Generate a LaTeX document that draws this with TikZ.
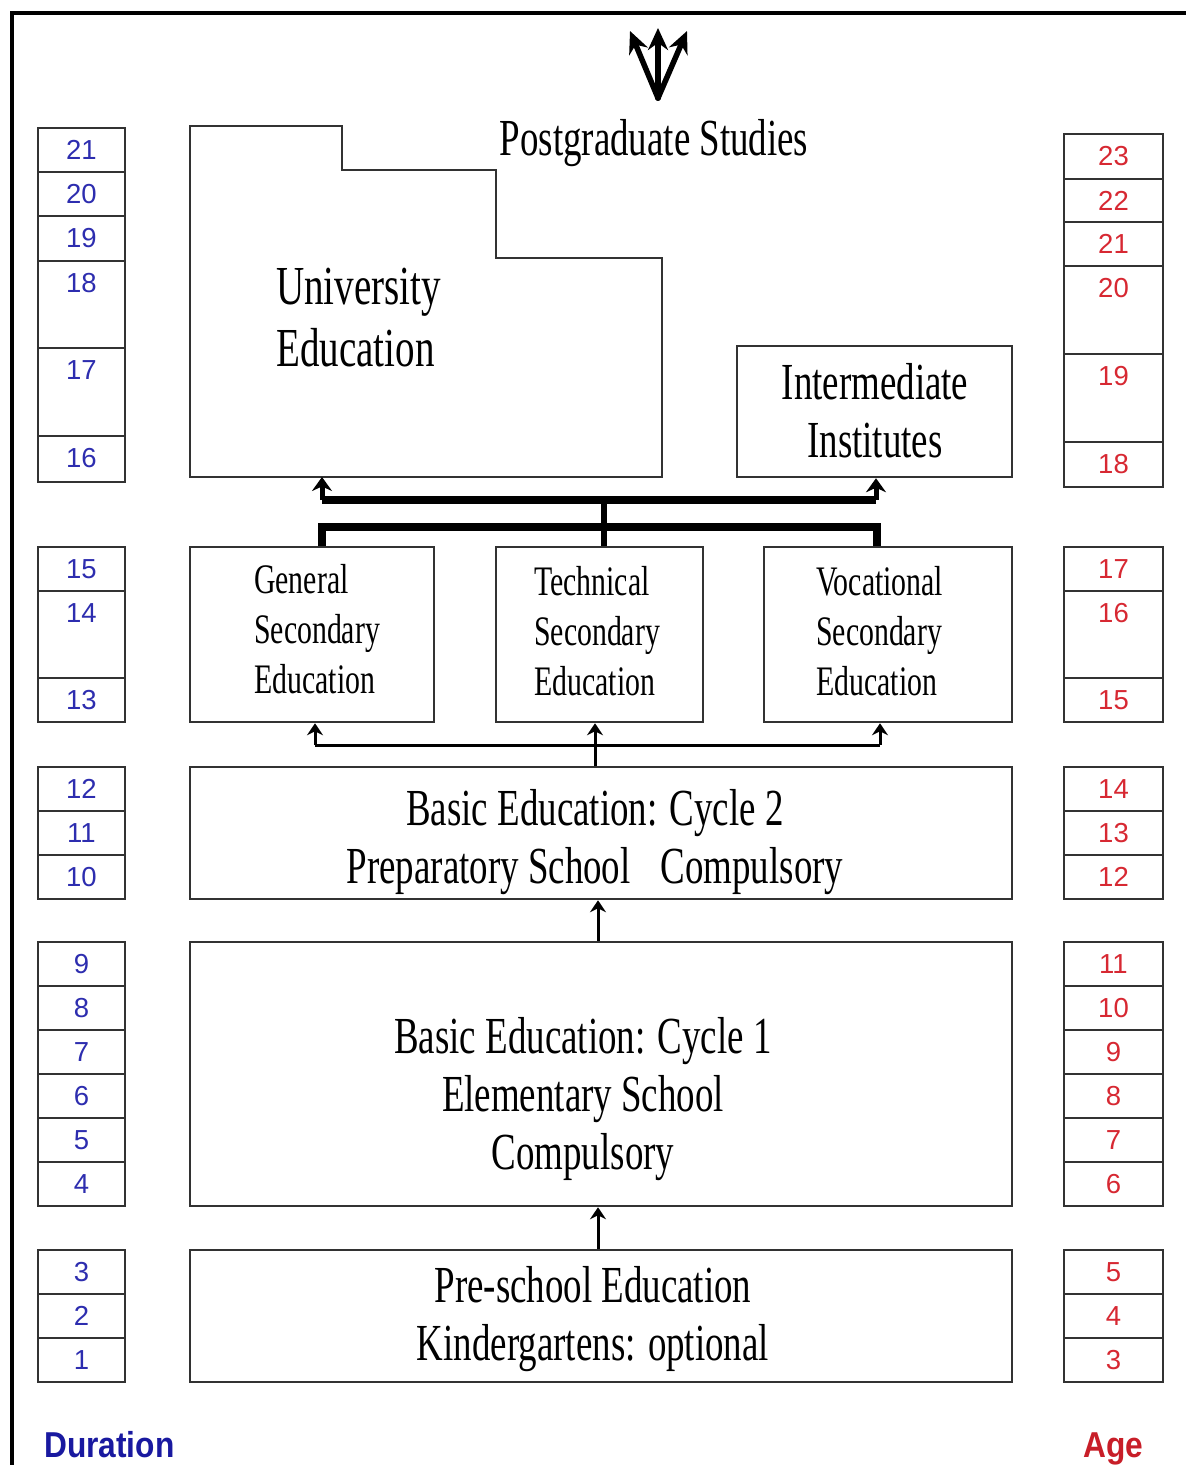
\documentclass[tikz,border=0pt]{standalone}
\usepackage{fontspec}
\usetikzlibrary{arrows.meta}
\newfontfamily\condserif{Liberation Serif}[FakeStretch=0.71]
\newfontfamily\numsans{Liberation Sans}
\newfontfamily\lblsans{Liberation Sans}[FakeStretch=0.88]
\definecolor{numblue}{RGB}{45,45,175}
\definecolor{numred}{RGB}{215,40,50}
\definecolor{durblue}{RGB}{25,25,160}
\definecolor{agered}{RGB}{200,30,40}
\definecolor{linegray}{RGB}{50,50,50}
\begin{document}
\begin{tikzpicture}[x=1pt,y=-1pt,
  seg/.style={draw=linegray,line width=2.5pt},
  box/.style={draw=linegray,line width=2.5pt,inner sep=0pt},
  lnum/.style={font=\numsans\fontsize{27.5}{27.5}\selectfont,text=numblue,inner sep=0pt},
  rnum/.style={font=\numsans\fontsize{27.5}{27.5}\selectfont,text=numred,inner sep=0pt},
  bigtxt/.style={font=\condserif\fontsize{52}{58}\selectfont,inner sep=0pt},
  midtxt/.style={font=\condserif\fontsize{42}{50}\selectfont,inner sep=0pt,align=left,anchor=west},
  thinarr/.style={draw=black,line width=3pt,-{Stealth[length=12pt,width=16pt]}},
  thinline/.style={draw=black,line width=3pt},
  barline/.style={draw=black,line width=8pt},
  thickarr/.style={draw=black,line width=5pt,-{Stealth[length=14pt,width=20pt]}},
  triarr/.style={draw=black,line width=5.5pt,line cap=round,-{Stealth[length=22pt,width=20pt]}},
  lbl/.style={font=\lblsans\bfseries\fontsize{36}{36}\selectfont,anchor=base west,inner sep=0pt}
]
\useasboundingbox (0,0) rectangle (1186,1465);
\fill[white] (0,0) rectangle (1186,1465);
% frame
\draw[line width=4pt,black] (12,1465) -- (12,13) -- (1186,13);

% trident
\coordinate (tb) at (658,98);
\coordinate (tc) at (658,28);
\coordinate (tl) at (630,31);
\coordinate (tr) at (687,31);
\draw[triarr] (tb) -- (tc);
\draw[triarr] (tb) -- (tl);
\draw[triarr] (tb) -- (tr);

\node[bigtxt] (pg) at (654,143) {Postgraduate Studies};

% university polygon
\draw[box] (190,126) -- (342,126) -- (342,170) -- (496,170) -- (496,258) -- (662,258) -- (662,477) -- (190,477) -- cycle;
\coordinate (univbot) at (322,477);
\node[font=\condserif\fontsize{55}{62}\selectfont,inner sep=0pt,align=left,anchor=west] (univtxt) at (276,318) {University\\Education};

% boxes
\node[box,minimum width=275pt,minimum height=131pt] (inter) at (874.5,411.5) {};
\node[bigtxt,align=center] (intertxt) at (875,411) {Intermediate\\Institutes};

\node[box,minimum width=244pt,minimum height=175pt] (gen) at (312,634.5) {};
\node[box,minimum width=207pt,minimum height=175pt] (tech) at (599.5,634.5) {};
\node[box,minimum width=248pt,minimum height=175pt] (voc) at (888,634.5) {};
\node[midtxt] (gentxt) at (254,629) {General\\Secondary\\Education};
\node[midtxt] (techtxt) at (534,631.5) {Technical\\Secondary\\Education};
\node[midtxt] (voctxt) at (816,631.5) {Vocational\\Secondary\\Education};

\node[box,minimum width=822pt,minimum height=132pt] (cyc2) at (601,833) {};
\node[bigtxt,align=center] (cyc2txt) at (595,842) {Basic Education: Cycle 2\\Preparatory School\hspace{30pt}Compulsory};

\node[box,minimum width=822pt,minimum height=264pt] (cyc1) at (601,1074) {};
\node[bigtxt,align=center] (cyc1txt) at (583,1099) {Basic Education: Cycle 1\\Elementary School\\Compulsory};

\node[box,minimum width=822pt,minimum height=132pt] (pre) at (601,1316) {};
\node[bigtxt,align=center] (pretxt) at (593,1319) {Pre-school Education\\Kindergartens: optional};

% connectors
\coordinate (x598) at (598,0);
\coordinate (x595) at (595,0);
\coordinate (x604) at (604,0);
\draw[thinarr] (pre.north -| x598) -- (cyc1.south -| x598);
\draw[thinarr] (cyc1.north -| x598) -- (cyc2.south -| x598);
\draw[thinarr] (cyc2.north -| x595) -- (tech.south -| x595);
\coordinate (b1) at (315,745);
\coordinate (b2) at (880,745);
\draw[thinline] (b1) -- (b2);
\draw[thinarr] (b1) -- (b1 |- gen.south);
\draw[thinarr] (b2) -- (b2 |- voc.south);

\coordinate (t1) at (322,527);
\coordinate (t2) at (877,527);
\draw[barline] (t1 |- gen.north) -- (t1) -- (t2) -- (t2 |- voc.north);
\coordinate (u1) at (322,500);
\coordinate (u2) at (876,500);
\draw[barline] (u1) -- (u2);
\draw[line width=6pt] (x604 |- u1) -- (tech.north -| x604);
\draw[thickarr] (u1) -- (univbot);
\draw[thickarr] (u2) -- (u2 |- inter.south);

% duration column
\foreach \n/\t/\b in {21/128/172, 20/172/216, 19/216/261, 18/261/348, 17/348/436, 16/436/482,
  15/547/591, 14/591/678, 13/678/722,
  12/767/811, 11/811/855, 10/855/899,
  9/942/986, 8/986/1030, 7/1030/1074, 6/1074/1118, 5/1118/1162, 4/1162/1206,
  3/1250/1294, 2/1294/1338, 1/1338/1382}{
  \draw[seg] (38,\t) rectangle (125,\b);
  \node[lnum] (L\n) at (81.5,{\t+22}) {\n};
}
% age column
\foreach \n/\t/\b in {23/134/179, 22/179/222, 21/222/266, 20/266/354, 19/354/442, 18/442/487,
  17/547/591, 16/591/678, 15/678/722,
  14/767/811, 13/811/855, 12/855/899,
  11/942/986, 10/986/1030, 9/1030/1074, 8/1074/1118, 7/1118/1162, 6/1162/1206,
  5/1250/1294, 4/1294/1338, 3/1338/1382}{
  \draw[seg] (1064,\t) rectangle (1163,\b);
  \node[rnum] (R\n) at (1113.5,{\t+22}) {\n};
}

\node[lbl,text=durblue] (dur) at (44,1457) {Duration};
\node[lbl,text=agered] (age) at (1083,1457) {Age};
\end{tikzpicture}
\end{document}
